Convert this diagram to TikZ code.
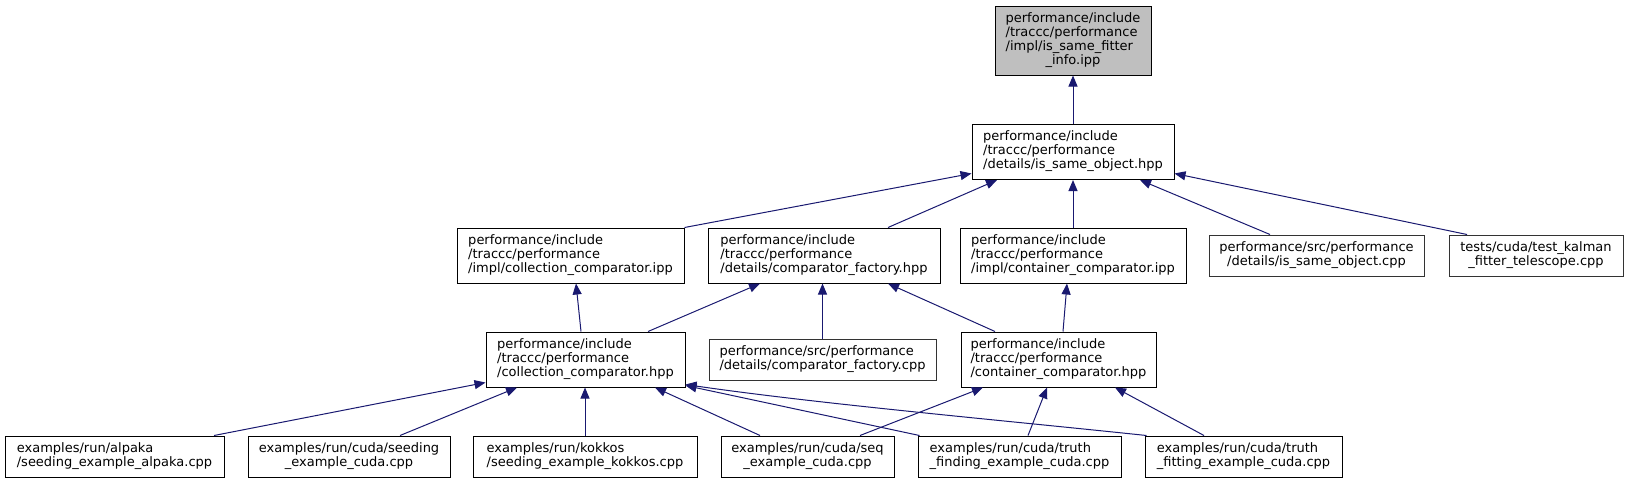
\documentclass[tikz,border=0pt]{standalone}
\usepackage{fontspec}
\setmainfont{DejaVu Sans}
\usetikzlibrary{arrows.meta}
\definecolor{edgeblue}{RGB}{25,25,112}
\definecolor{rootgray}{RGB}{191,191,191}
\newcommand\lbl[2]{\begin{tabular}{@{}l@{}}#1\\\multicolumn{1}{@{}c@{}}{#2}\end{tabular}}
\begin{document}
\begin{tikzpicture}[x=1pt,y=-1pt,
  box/.style={draw=black,line width=1pt,fill=white,inner sep=0pt,anchor=center,
    font=\fontsize{13}{14}\selectfont},
  leafbox/.style={box,draw=black!80},
  dep/.style={draw=edgeblue,line width=1pt,-{Triangle[length=11pt,width=9pt]}}]
\useasboundingbox (0,0) rectangle (1629,483);
% nodes
\node[box,fill=rootgray,minimum width=156pt,minimum height=69pt] (A) at (1073,40.5)
  {\lbl{performance/include\\/traccc/performance\\/impl/is\_same\_fitter}{\_info.ipp}};
\node[box,minimum width=202pt,minimum height=55pt] (B) at (1073,152)
  {\lbl{performance/include\\/traccc/performance}{/details/is\_same\_object.hpp}};
\node[box,minimum width=227pt,minimum height=55pt] (C) at (570.5,255.5)
  {\lbl{performance/include\\/traccc/performance}{/impl/collection\_comparator.ipp}};
\node[box,minimum width=232pt,minimum height=55pt] (D) at (824,255.5)
  {\lbl{performance/include\\/traccc/performance}{/details/comparator\_factory.hpp}};
\node[box,minimum width=226pt,minimum height=55pt] (E) at (1073,255.5)
  {\lbl{performance/include\\/traccc/performance}{/impl/container\_comparator.ipp}};
\node[leafbox,minimum width=215pt,minimum height=41pt] (F) at (1316.5,255.5)
  {\lbl{performance/src/performance}{/details/is\_same\_object.cpp}};
\node[leafbox,minimum width=174pt,minimum height=41pt] (G) at (1536,255.5)
  {\lbl{tests/cuda/test\_kalman}{\_fitter\_telescope.cpp}};
\node[box,minimum width=199pt,minimum height=55pt] (H) at (585.5,359.5)
  {\lbl{performance/include\\/traccc/performance}{/collection\_comparator.hpp}};
\node[leafbox,minimum width=227pt,minimum height=41pt] (I) at (822.5,359.5)
  {\lbl{performance/src/performance}{/details/comparator\_factory.cpp}};
\node[box,minimum width=195pt,minimum height=55pt] (J) at (1058.5,359.5)
  {\lbl{performance/include\\/traccc/performance}{/container\_comparator.hpp}};
\node[box,minimum width=219pt,minimum height=41pt] (K) at (114.5,456.5)
  {\lbl{examples/run/alpaka}{/seeding\_example\_alpaka.cpp}};
\node[box,minimum width=202pt,minimum height=41pt] (L) at (349,456.5)
  {\lbl{examples/run/cuda/seeding}{\_example\_cuda.cpp}};
\node[box,minimum width=224pt,minimum height=41pt] (M) at (585,456.5)
  {\lbl{examples/run/kokkos}{/seeding\_example\_kokkos.cpp}};
\node[box,minimum width=173pt,minimum height=41pt] (N) at (807.5,456.5)
  {\lbl{examples/run/cuda/seq}{\_example\_cuda.cpp}};
\node[box,minimum width=203pt,minimum height=41pt] (O) at (1019.5,456.5)
  {\lbl{examples/run/cuda/truth}{\_finding\_example\_cuda.cpp}};
\node[box,minimum width=197pt,minimum height=41pt] (P) at (1243.5,456.5)
  {\lbl{examples/run/cuda/truth}{\_fitting\_example\_cuda.cpp}};
% edges
\draw[dep] (B.north) -- (A.south);
\draw[dep] (C.north east) -- ([yshift=6.5pt]B.south west);
\draw[dep] ([xshift=64pt]D.north) -- ([xshift=-76pt]B.south);
\draw[dep] (E.north) -- (B.south);
\draw[dep] ([xshift=-46.5pt]F.north) -- ([xshift=67pt]B.south);
\draw[dep] ([xshift=-69pt]G.north) -- ([yshift=6.5pt]B.south east);
\draw[dep] ([xshift=-4.5pt]H.north) -- ([xshift=5.5pt]C.south);
\draw[dep] ([xshift=62.5pt]H.north) -- ([xshift=-64pt]D.south);
\draw[dep] (I.north) -- (I.north |- D.south);
\draw[dep] ([xshift=-63.5pt]J.north) -- ([xshift=64pt]D.south);
\draw[dep] ([xshift=4.5pt]J.north) -- ([xshift=-6pt]E.south);
\draw[dep] ([xshift=99.5pt]K.north) -- ([yshift=5pt]H.south west);
\draw[dep] ([xshift=51pt]L.north) -- ([xshift=-68.5pt]H.south);
\draw[dep] (M.north) -- (M.north |- H.south);
\draw[dep] ([xshift=-47.5pt]N.north) -- ([xshift=69.5pt]H.south);
\draw[dep] ([xshift=2pt]O.north west) -- ([yshift=2pt]H.south east);
\draw[dep] ([xshift=2pt]P.north west) .. controls (1000,420) and (820,404) .. ([yshift=3pt]H.south east);
\draw[dep] ([xshift=52.5pt]N.north) -- ([xshift=-75.5pt]J.south);
\draw[dep] ([xshift=8.5pt]O.north) -- ([xshift=-11.5pt]J.south);
\draw[dep] ([xshift=-39.5pt]P.north) -- ([xshift=56.5pt]J.south);
\end{tikzpicture}
\end{document}
